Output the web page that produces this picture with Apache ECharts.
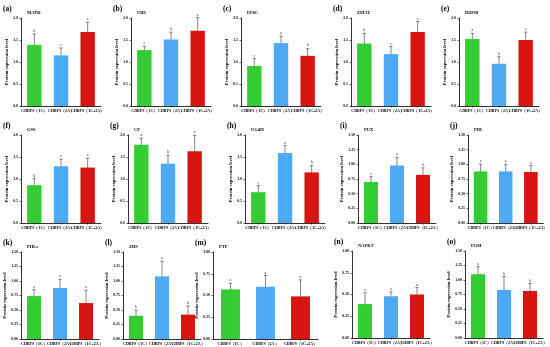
<!DOCTYPE html>
<html><head><meta charset="utf-8">
<script src="https://cdn.jsdelivr.net/npm/echarts@6/dist/echarts.min.js"></script>
<style>html,body{margin:0;padding:0;background:#fff}#c{width:550px;height:347px}</style>
</head><body><div id="c"></div>
<script>
const categories = ['CDBPS（1C）', 'CDBPS（2A）', 'CDBPS（1C+2A）'];
const panelTags = ['(a)','(b)','(c)','(d)','(e)','(f)','(g)','(h)','(i)','(j)','(k)','(l)','(m)','(n)','(o)'];
const panelNames = ['MAPK','UBE','EF6C','ZMAT','RHOB','GSS','CP','UGdH','PUX','PDI','PHLs','ZDS','PTP','NAPKT','PGM'];
const means = [
  [1.39, 1.15, 1.68],
  [1.27, 1.51, 1.71],
  [0.91, 1.43, 1.14],
  [1.42, 1.18, 1.68],
  [1.52, 0.96, 1.50],
  [0.86, 1.29, 1.26],
  [1.78, 1.35, 1.63],
  [0.70, 1.59, 1.15],
  [0.70, 0.98, 0.82],
  [0.88, 0.88, 0.87],
  [0.74, 0.88, 0.62],
  [0.40, 1.08, 0.42],
  [0.57, 0.60, 0.49],
  [0.39, 0.48, 0.50],
  [1.10, 0.83, 0.81]
];
const errors = [
  [0.25, 0.17, 0.22],
  [0.09, 0.17, 0.30],
  [0.17, 0.16, 0.17],
  [0.23, 0.17, 0.24],
  [0.13, 0.16, 0.18],
  [0.15, 0.16, 0.21],
  [0.15, 0.19, 0.36],
  [0.15, 0.17, 0.16],
  [0.09, 0.14, 0.12],
  [0.12, 0.12, 0.11],
  [0.11, 0.15, 0.22],
  [0.10, 0.26, 0.15],
  [0.07, 0.13, 0.19],
  [0.13, 0.05, 0.08],
  [0.13, 0.23, 0.13]
];
const letters = [
  ['b','c','a'],['c','b','a'],['c','a','b'],['b','c','a'],['a','b','a'],
  ['b','a','a'],['a','b','a'],['c','a','b'],['c','a','b'],['a','a','a'],
  ['a','a','a'],['b','a','b'],['a','a','a'],['a','a','a'],['a','b','b']
];
const yMax  = [2,2,2,2,2,2,2,2,1.5,1.5,1.5,1.5,1,1,1.5];
const yStep = [0.5,0.5,0.5,0.5,0.5,0.5,0.5,0.5,0.25,0.25,0.25,0.25,0.25,0.25,0.25];
const yDecimals = [1,1,1,1,1,1,1,1,2,2,2,2,2,2,2];

const barColors = ['#33cc33', '#4faaf5', '#d81510'];
const serif = '"Liberation Serif","Times New Roman",serif';

// layout per panel: [axisLeft, gridTop, width, height]
const layout = [
  [21,18,80,88],[131,18,80,88],[241,18,80,88],[351,18,80,88],[459,18,80,88],
  [21,135,80,88],[128,135,80,88],[245,135,80,88],[358,135,78,88],[468,135,78,88],
  [21,252,78,87],[123,252,78,87],[213,252,105,87],[352,251,78,87],[465,251,78,87]
];

const grid = [], xAxis = [], yAxis = [], series = [], graphic = [];
for (let p = 0; p < 15; p++) {
  const [l, t, w, h] = layout[p];
  grid.push({left: l, top: t, width: w, height: h});
  xAxis.push({
    type: 'category', gridIndex: p, data: categories,
    axisLine: {lineStyle: {color: '#000', width: 0.8}},
    axisTick: {show: true, alignWithLabel: true, length: 1.5, lineStyle: {color: '#000', width: 0.6}},
    axisLabel: {interval: 0, fontSize: 4, fontWeight: 'bold', fontFamily: serif, color: '#000', margin: 3}
  });
  yAxis.push({
    type: 'value', gridIndex: p, min: 0, max: yMax[p], interval: yStep[p],
    name: 'Protein expression level', nameLocation: 'middle', nameGap: 11,
    nameTextStyle: {fontSize: 4.6, fontWeight: 'bold', fontFamily: serif, color: '#000'},
    axisLine: {show: true, lineStyle: {color: '#000', width: 0.8}},
    axisTick: {show: true, length: 1.5, lineStyle: {color: '#000', width: 0.6}},
    splitLine: {show: false},
    axisLabel: {fontSize: 3.8, fontWeight: 'bold', fontFamily: serif, color: '#000', margin: 3,
      formatter: v => v.toFixed(yDecimals[p])}
  });
  series.push({
    type: 'bar', xAxisIndex: p, yAxisIndex: p, barWidth: '54%',
    data: means[p].map((v, i) => ({value: v, itemStyle: {color: barColors[i]}})),
    silent: true
  });
  const pi = p;
  series.push({
    type: 'custom', xAxisIndex: p, yAxisIndex: p, silent: true,
    data: means[p].map((v, i) => [i, v, errors[p][i]]),
    encode: {x: 0, y: 1},
    renderItem: function (params, api) {
      const x = api.value(0), m = api.value(1), e = api.value(2);
      const top = api.coord([x, m + e]);
      const bot = api.coord([x, m - e]);
      const cw = 1.6;
      const st = {stroke: '#333', lineWidth: 0.6};
      return {type: 'group', children: [
        {type: 'line', shape: {x1: top[0], y1: top[1], x2: bot[0], y2: bot[1]}, style: st},
        {type: 'line', shape: {x1: top[0]-cw, y1: top[1], x2: top[0]+cw, y2: top[1]}, style: st},
        {type: 'line', shape: {x1: bot[0]-cw, y1: bot[1], x2: bot[0]+cw, y2: bot[1]}, style: st},
        {type: 'text', x: top[0], y: top[1] - 1, style: {text: letters[pi][x], fontSize: 4, fill: '#333',
          fontFamily: serif, align: 'center', verticalAlign: 'bottom'}}
      ]};
    }
  });
  graphic.push({type: 'text', left: l - 18, top: t - 13, style: {text: panelTags[p], fontSize: 7.5,
    fontWeight: 'bold', fontFamily: serif, fill: '#000'}});
  graphic.push({type: 'text', left: l + 6, top: t - 8, style: {text: panelNames[p], fontSize: 4.5,
    fontWeight: 'bold', fontFamily: serif, fill: '#000'}});
}

const chart = echarts.init(document.getElementById('c'), null, {renderer: 'canvas'});
chart.setOption({animation: false, backgroundColor: '#fff', grid, xAxis, yAxis, series, graphic});
</script></body></html>
